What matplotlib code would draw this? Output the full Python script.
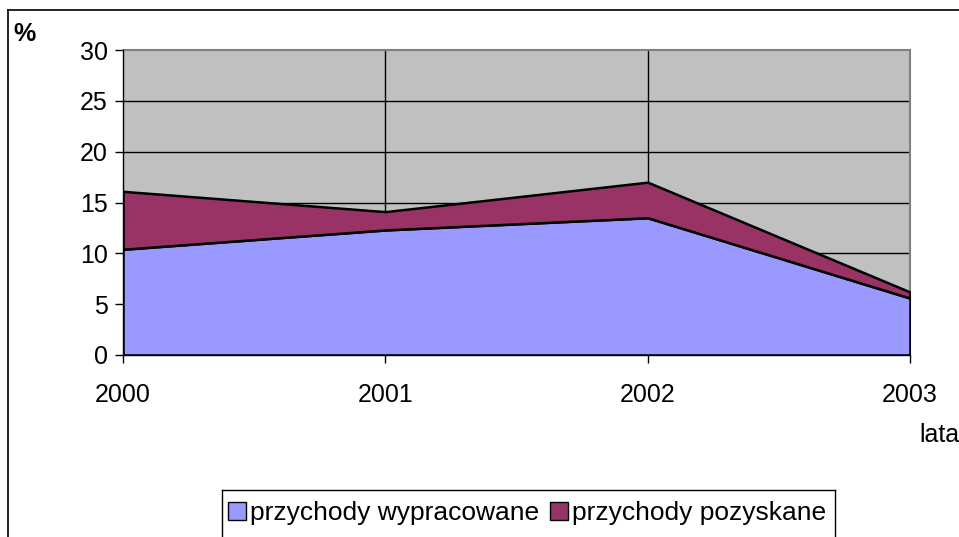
import numpy as np
import matplotlib.pyplot as plt
from matplotlib.patches import Patch
from matplotlib.lines import Line2D

plt.rcParams['font.family'] = ['Liberation Sans', 'DejaVu Sans']

years = ['2000', '2001', '2002', '2003']
wypracowane = [10.4, 12.3, 13.5, 5.6]
pozyskane = [5.7, 1.8, 3.5, 0.6]
series_names = ['przychody wypracowane', 'przychody pozyskane']
colors = ['#9999FF', '#993366']

W, H = 959, 537
fig = plt.figure(figsize=(W / 100, H / 100), dpi=100)

# plot area in pixel coords
x0, x1, ytop, ybot = 123, 910, 50, 355
ax = fig.add_axes([x0 / W, (H - ybot) / H, (x1 - x0) / W, (ybot - ytop) / H])
ax.set_facecolor('#C0C0C0')

x = np.arange(len(years))
ax.stackplot(x, wypracowane, pozyskane, colors=colors,
             edgecolor='black', linewidth=1.8, zorder=3)

ax.set_xlim(0, len(years) - 1)
ax.set_ylim(0, 30)
ax.set_yticks(range(0, 31, 5))
ax.set_xticks(x)
ax.set_xticklabels(years)
ax.tick_params(axis='both', labelsize=18, direction='out', length=6, width=1, color='black')
ax.tick_params(axis='x', pad=14)
ax.tick_params(axis='y', pad=5)

# gridlines
for v in range(5, 30, 5):
    ax.axhline(v, color='black', lw=1, zorder=1)
for xi in x[1:-1]:
    ax.axvline(xi, color='black', lw=1, zorder=1)

for s in ['top', 'right']:
    ax.spines[s].set_color('#808080')
    ax.spines[s].set_linewidth(1.5)
for s in ['left', 'bottom']:
    ax.spines[s].set_color('black')
    ax.spines[s].set_linewidth(1)
    ax.spines[s].set_zorder(4)

# outer chart frame (partly cut off)
fig.add_artist(Line2D([8 / W, 1], [1 - 10 / H, 1 - 10 / H], color='black', lw=1.2))
fig.add_artist(Line2D([8 / W, 8 / W], [0, 1 - 10 / H], color='black', lw=1.2))

fig.text(13 / W, 1 - 34 / H, '%', fontsize=18, fontweight='bold', va='center', ha='left')
fig.text(919 / W, 1 - 435 / H, 'lata', fontsize=18, va='center', ha='left')

# legend box
lx0, lx1, ly = 222, 835, 490
fig.add_artist(Line2D([lx0 / W, lx1 / W], [1 - ly / H, 1 - ly / H], color='black', lw=1))
fig.add_artist(Line2D([lx0 / W, lx0 / W], [0, 1 - ly / H], color='black', lw=1))
fig.add_artist(Line2D([lx1 / W, lx1 / W], [0, 1 - ly / H], color='black', lw=1))

handles = [Patch(facecolor=c, edgecolor='black', lw=1) for c in colors]
fig.legend(handles, series_names, loc='center', bbox_to_anchor=(527 / W, 1 - 513 / H),
           ncol=2, frameon=False, fontsize=19, handlelength=0.7, handleheight=0.7,
           handletextpad=0.15, columnspacing=0.4)

fig.savefig('out.png', dpi=100)
